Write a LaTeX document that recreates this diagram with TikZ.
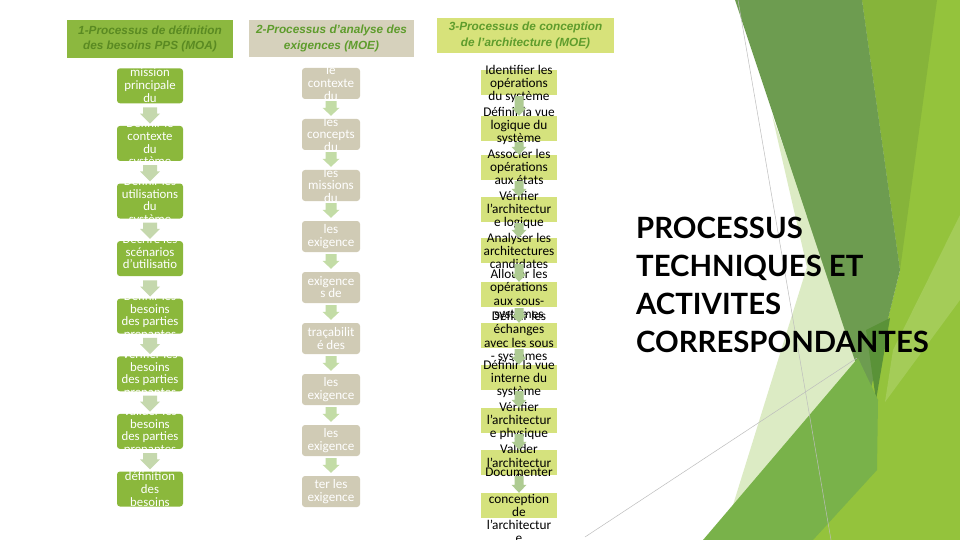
\documentclass[tikz,border=0pt]{standalone}
\usepackage{fontspec}
\setmainfont{Carlito}
\newfontfamily\hdfont{Liberation Sans}
\newfontfamily\ttlfont{Lato}
\usetikzlibrary{calc}
\definecolor{fdark}{HTML}{6D9C50}
\definecolor{folive}{HTML}{86B43A}
\definecolor{fbright}{HTML}{94C33C}
\definecolor{fpale}{HTML}{DCEBC4}
\definecolor{fmid}{HTML}{79B24A}
\definecolor{flight}{HTML}{A4CC58}
\definecolor{faccent}{HTML}{5A9238}
\definecolor{hOne}{HTML}{8CB83F}
\definecolor{hTwo}{HTML}{D6D1BC}
\definecolor{hThree}{HTML}{D7E27A}
\definecolor{hOneTxt}{HTML}{5A8A22}
\definecolor{hTxt}{HTML}{5E9C2C}
\definecolor{cOne}{HTML}{8BB83C}
\definecolor{cTwo}{HTML}{D0CBB5}
\definecolor{cThree}{HTML}{D5E27D}
\definecolor{aOne}{HTML}{C5D8AD}
\definecolor{aTwo}{HTML}{C3DCA6}
\definecolor{aThree}{HTML}{AECB92}
\definecolor{glinec}{HTML}{BDBDBD}
\newcommand\cbox[7]{%
  \node[#1] (#2) at (#3,#4) {};
  \begin{scope}
    \clip (#2.south west) rectangle (#2.north east);
    \node[#5] (#2t) at (#3,#6) {#7};
  \end{scope}}
\newcommand\barrow[8]{%
  \fill[#6] ($(#1.south)+(-#3,#7)$) -- ($(#1.south)+(#3,#7)$)
    -- ($(#2.north)+(#3,-#5-#8)$) -- ($(#2.north)+(#4,-#5-#8)$)
    -- ($(#2.north)+(0,-#8)$) -- ($(#2.north)+(-#4,-#5-#8)$)
    -- ($(#2.north)+(-#3,-#5-#8)$) -- cycle;}
\begin{document}
\begin{tikzpicture}[x=1pt,y=-1pt,
  hdr/.style={inner sep=0pt, align=center, font=\hdfont\bfseries\itshape\fontsize{11.8}{15.5}\selectfont},
  oneBox/.style={fill=cOne, rounded corners=3pt, minimum width=66pt, minimum height=35pt, inner sep=0pt},
  twoBox/.style={fill=cTwo, rounded corners=3pt, minimum width=58pt, minimum height=31pt, inner sep=0pt},
  threeBox/.style={fill=cThree, minimum width=76pt, minimum height=25pt, inner sep=0pt},
  oneTxt/.style={text=white, align=center, inner sep=0pt, font=\fontsize{12.8}{12.7}\selectfont},
  twoTxt/.style={text=white, align=center, inner sep=0pt, font=\fontsize{13.1}{12.7}\selectfont},
  threeTxt/.style={text=black, align=center, inner sep=0pt, font=\fontsize{13.3}{13.3}\selectfont},
  gline/.style={draw=glinec, line width=0.5pt},
  ttl/.style={inner sep=0pt, align=left, font=\ttlfont\bfseries\fontsize{29.3}{38}\selectfont}
]
\useasboundingbox (0,0) rectangle (960,540);
\fill[white] (0,0) rectangle (960,540);

% background facets
\fill[fpale] (772,115) -- (870,385) -- (733,505) -- (807,267) -- cycle;
\fill[fbright] (862,0) -- (960,0) -- (960,540) -- (790,540) -- (868,398) -- (900,270) -- cycle;
\fill[folive] (862,0) -- (937,0) -- (900,270) -- cycle;
\fill[flight] (960,215) -- (960,300) -- (885,402) -- (893,350) -- cycle;
\fill[fdark] (735,0) -- (862,0) -- (900,270) -- (868,400) -- cycle;
\fill[faccent] (866,330) -- (890,318) -- (876,400) -- cycle;
\fill[fmid] (703,540) -- (858,358) -- (878,400) -- (877,470) -- (813,540) -- cycle;
\draw[gline] (738,0) -- (831,540);
\draw[gline] (585,537) -- (857,358);

% headers
\node[hdr, fill=hOne, text=hOneTxt, minimum width=166pt, minimum height=38pt] (h1) at (150,39)
  {1-Processus de définition\\des besoins PPS (MOA)};
\node[hdr, fill=hTwo, text=hTxt, minimum width=165pt, minimum height=37pt] (h2) at (331.5,38.5)
  {2-Processus d’analyse des\\exigences (MOE)};
\node[hdr, fill=hThree, text=hTxt, minimum width=177pt, minimum height=35pt] (h3) at (525.5,35.5)
  {3-Processus de conception\\de l’architecture (MOE)};

% column 1
\cbox{oneBox}{a1}{150}{85.8}{oneTxt}{85.3}{mission\\principale\\du}
\cbox{oneBox}{a2}{150}{143.4}{oneTxt}{143.4}{Définir le\\contexte\\du\\système}
\cbox{oneBox}{a3}{150}{201}{oneTxt}{201}{Définir les\\utilisations\\du\\système}
\cbox{oneBox}{a4}{150}{258.6}{oneTxt}{251.8}{Décrire les\\scénarios\\d’utilisatio}
\cbox{oneBox}{a5}{150}{316.2}{oneTxt}{316}{Définir les\\besoins\\des parties\\prenantes}
\cbox{oneBox}{a6}{150}{373.8}{oneTxt}{374}{Vérifier les\\besoins\\des parties\\prenantes}
\cbox{oneBox}{a7}{150}{431.4}{oneTxt}{431}{Valider les\\besoins\\des parties\\prenantes}
\cbox{oneBox}{a8}{150}{489}{oneTxt}{489}{définition\\des\\besoins}

% column 2
\cbox{twoBox}{b1}{331}{83.5}{twoTxt}{83}{le\\contexte\\du}
\cbox{twoBox}{b2}{331}{134.5}{twoTxt}{134.5}{les\\concepts\\du}
\cbox{twoBox}{b3}{331}{185.5}{twoTxt}{185.5}{les\\missions\\du}
\cbox{twoBox}{b4}{331}{236.5}{twoTxt}{236.5}{les\\exigence}
\cbox{twoBox}{b5}{331}{287.5}{twoTxt}{287}{exigence\\s de}
\cbox{twoBox}{b6}{331}{338.5}{twoTxt}{338.5}{traçabilit\\é des}
\cbox{twoBox}{b7}{331}{389.5}{twoTxt}{389.5}{les\\exigence}
\cbox{twoBox}{b8}{331}{440.5}{twoTxt}{440.5}{les\\exigence}
\cbox{twoBox}{b9}{331}{491.5}{twoTxt}{491.5}{ter les\\exigence}

% column 3
\node[threeBox] (c1) at (519,82.5) {};
\node[threeBox] (c2) at (519,128.5) {};
\node[threeBox] (c3) at (519,167.5) {};
\node[threeBox] (c4) at (519,209.5) {};
\node[threeBox] (c5) at (519,250.5) {};
\node[threeBox] (c6) at (519,294.5) {};
\node[threeBox] (c7) at (519,335.5) {};
\node[threeBox] (c8) at (519,377.5) {};
\node[threeBox] (c9) at (519,420.5) {};
\node[threeBox] (c10) at (519,462.5) {};
\node[threeBox] (c11) at (519,505.5) {};
\node[threeTxt] (c1t) at (519,84) {Identifier les\\opérations\\du système};
\node[threeTxt] (c2t) at (519,126) {Définir la vue\\logique du\\système};
\node[threeTxt] (c3t) at (519,167) {Associer les\\opérations\\aux états};
\node[threeTxt] (c4t) at (519,210) {Vérifier\\l’architectur\\e logique};
\node[threeTxt] (c5t) at (519,251) {Analyser les\\architectures\\candidates};
\node[threeTxt] (c6t) at (519,295) {Allouer les\\opérations\\aux sous-\\systèmes};
\node[threeTxt] (c7t) at (519,337) {Définir les\\échanges\\avec les sous\\- systèmes};
\node[threeTxt] (c8t) at (519,379) {Définir la vue\\interne du\\système};
\node[threeTxt] (c9t) at (519,421) {Vérifier\\l’architectur\\e physique};
\node[threeTxt] (c10t) at (519,462.5) {Valider\\l’architectur\\e};
\node[threeTxt] (c11t) at (519,505.5) {Documenter\\la\\conception\\de\\l’architectur\\e};

% arrows column 1
\barrow{a1}{a2}{7}{10}{10}{aOne}{4}{2}
\barrow{a2}{a3}{7}{10}{10}{aOne}{4}{2}
\barrow{a3}{a4}{7}{10}{10}{aOne}{4}{2}
\barrow{a4}{a5}{7}{10}{10}{aOne}{4}{2}
\barrow{a5}{a6}{7}{10}{10}{aOne}{4}{2}
\barrow{a6}{a7}{7}{10}{10}{aOne}{4}{2}
\barrow{a7}{a8}{7}{10}{10}{aOne}{4}{2}
% arrows column 2
\barrow{b1}{b2}{5.5}{8.5}{8}{aTwo}{2}{3}
\barrow{b2}{b3}{5.5}{8.5}{8}{aTwo}{2}{3}
\barrow{b3}{b4}{5.5}{8.5}{8}{aTwo}{2}{3}
\barrow{b4}{b5}{5.5}{8.5}{8}{aTwo}{2}{3}
\barrow{b5}{b6}{5.5}{8.5}{8}{aTwo}{2}{3}
\barrow{b6}{b7}{5.5}{8.5}{8}{aTwo}{2}{3}
\barrow{b7}{b8}{5.5}{8.5}{8}{aTwo}{2}{3}
\barrow{b8}{b9}{5.5}{8.5}{8}{aTwo}{2}{3}
% arrows column 3
\barrow{c1}{c2}{4.5}{7.5}{8}{aThree}{1}{0}
\barrow{c2}{c3}{4.5}{7.5}{8}{aThree}{1}{0}
\barrow{c3}{c4}{4.5}{7.5}{8}{aThree}{1}{0}
\barrow{c4}{c5}{4.5}{7.5}{8}{aThree}{1}{0}
\barrow{c5}{c6}{4.5}{7.5}{8}{aThree}{1}{0}
\barrow{c6}{c7}{4.5}{7.5}{8}{aThree}{1}{0}
\barrow{c7}{c8}{4.5}{7.5}{8}{aThree}{1}{0}
\barrow{c8}{c9}{4.5}{7.5}{8}{aThree}{1}{0}
\barrow{c9}{c10}{4.5}{7.5}{8}{aThree}{1}{0}
\barrow{c10}{c11}{4.5}{7.5}{8}{aThree}{1}{0}

% title
\node[ttl, anchor=north west] (title) at (636,217)
  {PROCESSUS\\TECHNIQUES ET\\ACTIVITES\\CORRESPONDANTES};
\end{tikzpicture}
\end{document}
